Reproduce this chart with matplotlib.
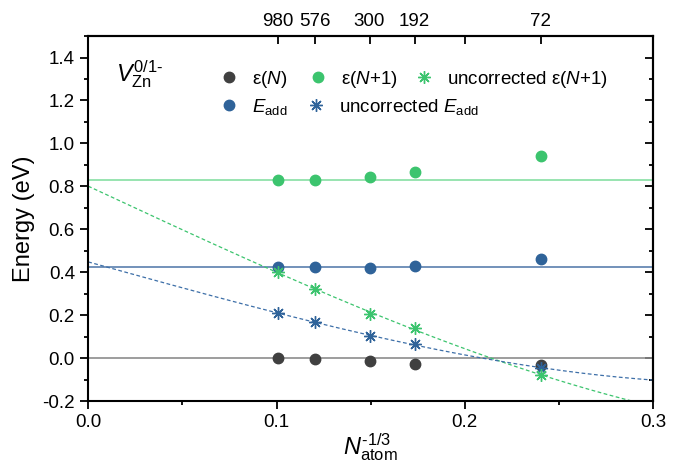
import matplotlib
matplotlib.use('Agg')
import matplotlib.pyplot as plt
import numpy as np
from matplotlib.legend import Legend
from matplotlib.ticker import MultipleLocator, FixedLocator, FormatStrFormatter

plt.rcParams['font.family'] = ['Liberation Sans', 'DejaVu Sans']
plt.rcParams['mathtext.fontset'] = 'custom'
plt.rcParams['mathtext.rm'] = 'Liberation Sans'
plt.rcParams['mathtext.it'] = 'Liberation Sans:italic'
plt.rcParams['axes.unicode_minus'] = False

# supercell sizes and x = N^(-1/3)
n_atoms = [980, 576, 300, 192, 72]
x = [n ** (-1.0 / 3) for n in n_atoms]

eps_n = [0.002, -0.005, -0.014, -0.026, -0.033]
eps_n1 = [0.828, 0.831, 0.842, 0.865, 0.941]
e_add = [0.422, 0.422, 0.420, 0.428, 0.460]
unc_eps_n1 = [0.401, 0.321, 0.206, 0.141, -0.079]
unc_e_add = [0.211, 0.167, 0.102, 0.065, -0.045]

# reference levels (extrapolated)
lvl_eps_n = 0.0
lvl_eps_n1 = 0.828
lvl_e_add = 0.422

c_dark = '#404040'
c_green = '#3cc46e'
c_blue = '#2f6399'

fs = 13.5
fs_leg = 13.5

fig = plt.figure(figsize=(6.89, 4.62), dpi=100)
ax = fig.add_axes([0.128, 0.132, 0.820, 0.790])

# horizontal reference lines
ax.axhline(lvl_eps_n, color='#8c8c8c', lw=1.2, zorder=1)
ax.axhline(lvl_eps_n1, color='#86dfa3', lw=1.2, zorder=1)
ax.axhline(lvl_e_add, color='#5a7fae', lw=1.2, zorder=1)

# fits E = a + b x + c x^3 of uncorrected data
xf = np.linspace(0, 0.3, 300)
def fit(xs, ys):
    xs = np.asarray(xs)
    A = np.vstack([np.ones_like(xs), xs, xs ** 3]).T
    coef = np.linalg.lstsq(A, np.asarray(ys), rcond=None)[0]
    return coef[0] + coef[1] * xf + coef[2] * xf ** 3

ax.plot(xf, fit(x, unc_eps_n1), color=c_green, lw=0.9, dashes=(3, 2), zorder=2)
ax.plot(xf, fit(x, unc_e_add), color='#3d6fa8', lw=0.9, dashes=(3, 2), zorder=2)

star = (8, 2, 0)
h_en, = ax.plot(x, eps_n, 'o', color=c_dark, ms=7.5, ls='none', zorder=3)
h_ea, = ax.plot(x, e_add, 'o', color=c_blue, ms=7.5, ls='none', zorder=3)
h_en1, = ax.plot(x, eps_n1, 'o', color=c_green, ms=7.5, ls='none', zorder=3)
h_uea, = ax.plot(x, unc_e_add, marker=star, color=c_blue, ms=9, mew=1.0, ls='none', zorder=4)
h_uen1, = ax.plot(x, unc_eps_n1, marker=star, color=c_green, ms=9, mew=1.0, ls='none', zorder=4)

# legend entries placed one by one (marker x, row y in axes fraction)
entries = [
    (h_en, 'ε($N$)', 0.250, 0.882),
    (h_en1, 'ε($N$+1)', 0.407, 0.882),
    (h_uen1, 'uncorrected ε($N$+1)', 0.595, 0.882),
    (h_ea, r'$E_{\rm add}$', 0.250, 0.806),
    (h_uea, r'uncorrected $E_{\rm add}$', 0.4035, 0.806),
]
half = 0.5 * fs_leg * 100 / 72 / (0.820 * 689)
for h, lab, mx, my in entries:
    lg = Legend(ax, [h], [lab], loc='center left', bbox_to_anchor=(mx - half, my),
                frameon=False, fontsize=fs_leg, handlelength=1.0, handletextpad=0.7,
                borderpad=0, borderaxespad=0)
    ax.add_artist(lg)

ax.text(0.05, 0.875, r'$V_{\rm Zn}^{\text{0/1-}}$', transform=ax.transAxes, fontsize=17)

ax.set_xlim(0, 0.3)
ax.set_ylim(-0.2, 1.5)
ax.xaxis.set_major_locator(MultipleLocator(0.1))
ax.xaxis.set_minor_locator(MultipleLocator(0.05))
ax.yaxis.set_major_locator(MultipleLocator(0.2))
ax.yaxis.set_minor_locator(MultipleLocator(0.1))
ax.xaxis.set_major_formatter(FormatStrFormatter('%.1f'))
ax.yaxis.set_major_formatter(FormatStrFormatter('%.1f'))
ax.tick_params(which='major', direction='out', length=6, width=1.3, labelsize=fs)
ax.tick_params(which='minor', direction='out', length=3, width=1.3)
ax.set_xlabel(r'$N_{\rm atom}^{\text{-1/3}}$', fontsize=17, labelpad=0)
ax.set_ylabel('Energy (eV)', fontsize=17, labelpad=5)
for s in ax.spines.values():
    s.set_linewidth(1.5)

# right axis: inward ticks, no labels
ay = ax.secondary_yaxis('right')
ay.yaxis.set_major_locator(MultipleLocator(0.2))
ay.yaxis.set_minor_locator(MultipleLocator(0.1))
ay.tick_params(which='major', direction='in', length=6, width=1.3, labelright=False)
ay.tick_params(which='minor', direction='in', length=3, width=1.3)
ay.spines['right'].set_linewidth(1.5)

# top axis: number of atoms
top_ticks = x[:4] + [0.2] + x[4:]
top_labels = [str(n) for n in n_atoms[:4]] + [''] + [str(n_atoms[4])]
axt = ax.secondary_xaxis('top')
axt.set_xticks(top_ticks)
axt.set_xticklabels(top_labels)
axt.tick_params(direction='in', length=6, width=1.3, labelsize=fs, pad=4)
axt.xaxis.set_minor_locator(FixedLocator([]))
axt.spines['top'].set_linewidth(1.5)

fig.savefig('out.png', dpi=100)
